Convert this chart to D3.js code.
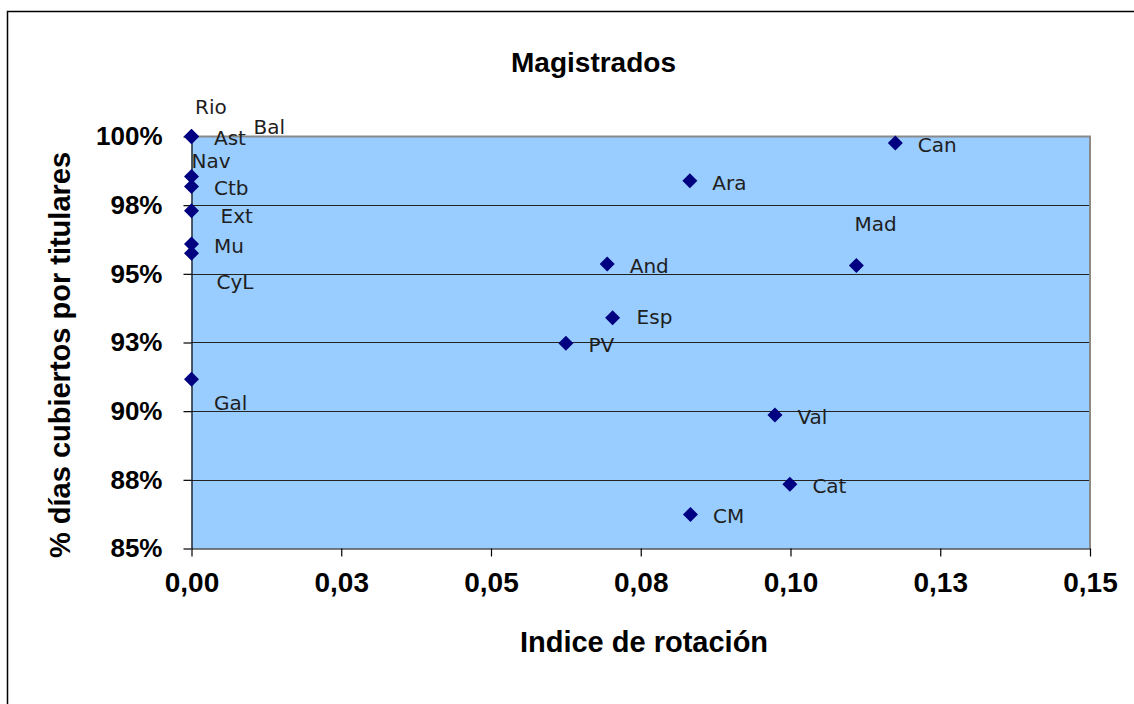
<!DOCTYPE html>
<html>
<head>
<meta charset="utf-8">
<script src="https://cdn.jsdelivr.net/npm/d3@7/dist/d3.min.js"></script>
<style>
  html, body { margin: 0; padding: 0; background: #fff; }
  svg { display: block; }
</style>
</head>
<body>
<svg id="chart" width="1134" height="704"></svg>
<script>
// ---- Data ----
const names    = ["Rio","Ast","Bal","Nav","Ctb","Ext","Mu","CyL","Gal","Can","Ara","Mad","And","Esp","PV","Val","Cat","CM"];
const rotation = [0, 0, 0, 0, 0, 0, 0, 0, 0, 0.1175, 0.0832, 0.1110, 0.0694, 0.0703, 0.0625, 0.0974, 0.0999, 0.0833];
const coverage = [1.0, 1.0, 1.0, 0.9854, 0.9818, 0.9730, 0.9609, 0.9575, 0.9116, 0.9976, 0.9839, 0.9530, 0.9536, 0.9340, 0.9247, 0.8986, 0.8734, 0.8624];
const xTicks      = [0, 0.025, 0.05, 0.075, 0.1, 0.125, 0.15];
const xTickLabels = ["0,00","0,03","0,05","0,08","0,10","0,13","0,15"];
const yTicks      = [0.85, 0.875, 0.9, 0.925, 0.95, 0.975, 1.0];
const yTickLabels = ["85%","88%","90%","93%","95%","98%","100%"];
const titleText = "Magistrados";
const xTitle = "Indice de rotación";
const yTitle = "% días cubiertos por titulares";

// ---- Layout (label placement, not data) ----
const defaultLabel = { dx: 22.5, dy: 1.5 };
const labelPlacement = {
  Rio: { dx: 3.5, dy: -30 },
  Bal: { dx: 62, dy: -10 },
  Nav: { dx: 0, dy: -16.4 },
  Ext: { dx: 29, dy: 5 },
  Mu:  { dx: 22.5, dy: 2 },
  CyL: { dx: 25, dy: 28 },
  Gal: { dx: 22.5, dy: 23 },
  Mad: { dx: -2, dy: -42 },
  Esp: { dx: 24, dy: -1.5 }
};

const svg = d3.select("#chart");
const L = 191.5, R = 1090, T = 136.5, B = 548.5;

const x = d3.scaleLinear().domain([0, 0.15]).range([L, R]);
const y = d3.scaleLinear().domain([0.85, 1.0]).range([B, T]);

// outer frame
svg.append("rect")
  .attr("x", 7.5).attr("y", 11.5)
  .attr("width", 1140).attr("height", 720)
  .attr("fill", "none").attr("stroke", "#000").attr("stroke-width", 1.5);

// plot area
svg.append("rect")
  .attr("x", L).attr("y", T)
  .attr("width", R - L).attr("height", B - T)
  .attr("fill", "#99CCFF");

// gridlines
svg.append("g").selectAll("line")
  .data(yTicks.filter(d => d > 0.85 && d < 1.0))
  .join("line")
  .attr("x1", L).attr("x2", R)
  .attr("y1", d => Math.round(y(d)) + 0.5).attr("y2", d => Math.round(y(d)) + 0.5)
  .attr("stroke", "#222").attr("stroke-width", 1);

// plot border (top & right gray)
svg.append("path")
  .attr("d", `M${L},${T}H${R}V${B}`)
  .attr("fill", "none").attr("stroke", "#8a8a8a").attr("stroke-width", 2);

// axes
const yAxis = d3.axisLeft(y)
  .tickValues(yTicks)
  .tickFormat((d, i) => yTickLabels[i])
  .tickSize(8).tickSizeOuter(0).tickPadding(21);
const gy = svg.append("g").attr("transform", `translate(${L},0)`).call(yAxis);
gy.selectAll("text")
  .attr("font-family", "'Liberation Sans', Arial, sans-serif")
  .attr("font-weight", "bold").attr("font-size", 26).attr("fill", "#000");
gy.selectAll("line,path").attr("stroke", "#000").attr("stroke-width", 1.2);

const xAxis = d3.axisBottom(x)
  .tickValues(xTicks)
  .tickFormat((d, i) => xTickLabels[i])
  .tickSize(8).tickSizeOuter(0).tickPadding(15.5);
const gx = svg.append("g").attr("transform", `translate(0,${B})`).call(xAxis);
gx.selectAll("text")
  .attr("font-family", "'Liberation Sans', Arial, sans-serif")
  .attr("font-weight", "bold").attr("font-size", 28).attr("fill", "#000");
gx.selectAll("line,path").attr("stroke", "#000").attr("stroke-width", 1.2);

// points
const pts = names.map((n, i) => ({ name: n, xv: rotation[i], yv: coverage[i] }));
const dsz = 7.5;
svg.append("g").selectAll("path")
  .data(pts)
  .join("path")
  .attr("transform", d => `translate(${x(d.xv)},${y(d.yv)})`)
  .attr("d", `M0,${-dsz}L${dsz},0L0,${dsz}L${-dsz},0Z`)
  .attr("fill", "#000080");

// data labels
svg.append("g").selectAll("text")
  .data(pts)
  .join("text")
  .attr("x", d => x(d.xv) + (labelPlacement[d.name] || defaultLabel).dx)
  .attr("y", d => y(d.yv) + (labelPlacement[d.name] || defaultLabel).dy + 7.3)
  .attr("font-family", "'DejaVu Sans', Verdana, sans-serif")
  .attr("font-size", 20)
  .attr("fill", "#1e1e1e")
  .text(d => d.name);

// titles
svg.append("text")
  .attr("x", 593.5).attr("y", 71.7)
  .attr("text-anchor", "middle")
  .attr("font-family", "'Liberation Sans', Arial, sans-serif")
  .attr("font-weight", "bold").attr("font-size", 28)
  .text(titleText);

svg.append("text")
  .attr("x", 644).attr("y", 652)
  .attr("text-anchor", "middle")
  .attr("font-family", "'Liberation Sans', Arial, sans-serif")
  .attr("font-weight", "bold").attr("font-size", 29)
  .text(xTitle);

svg.append("text")
  .attr("transform", "translate(70,355) rotate(-90)")
  .attr("text-anchor", "middle")
  .attr("font-family", "'Liberation Sans', Arial, sans-serif")
  .attr("font-weight", "bold").attr("font-size", 29)
  .text(yTitle);
</script>
</body>
</html>
